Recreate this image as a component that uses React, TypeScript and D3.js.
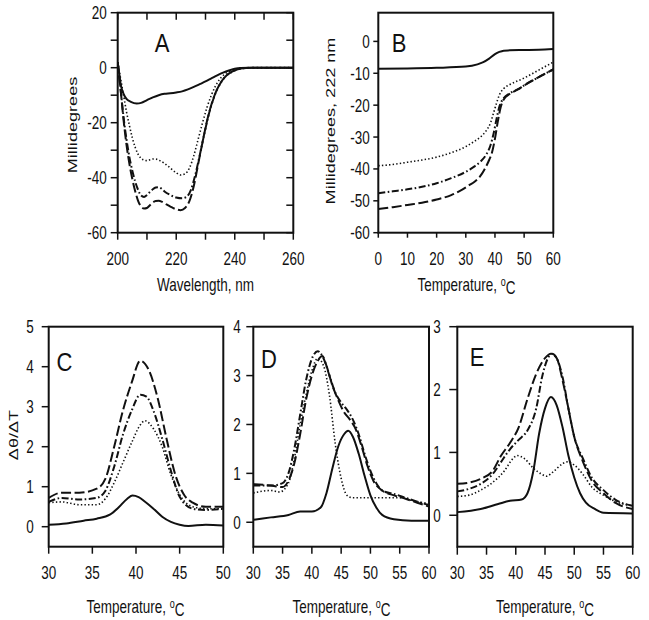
import React from "react";
import * as d3 from "d3";

type P = [number, number];

// ---------- Panel A: CD spectra (wavelength nm vs millidegrees)
const A_SOLID: P[] = [[200,2],[200.5,-2],[201,-6],[202,-9.5],[203,-11.3],[204.5,-12.4],[206.5,-13],[208,-12.8],[210,-11.8],[212,-10.8],[214,-10],[216,-9.5],[218,-9.3],[220,-9],[222,-8.6],[224,-7.9],[226,-7],[228,-6],[230,-5],[232,-3.9],[234,-2.8],[236,-1.8],[238,-1],[240,-0.4],[242,-0.1],[245,0],[260,0]];
const A_DOTTED: P[] = [[200,2],[201,-4],[202,-10],[203,-16],[204,-21],[205,-25.5],[206,-29],[207,-31.5],[208,-33],[209,-33.6],[210,-33.8],[211,-33.5],[212,-33.2],[213,-33.2],[214,-33.6],[216,-34.8],[218,-36.5],[220,-38.2],[221.5,-39],[223,-38.6],[224.5,-36.5],[226,-32],[227.5,-26],[229,-20],[230.5,-14.5],[232,-10],[233.5,-6.5],[235,-4],[237,-2],[239,-0.9],[241,-0.3],[244,0],[260,0]];
const A_DASHDOT: P[] = [[200,2],[201,-8],[202,-18],[203,-26],[204,-32.5],[205,-37.5],[206,-41.5],[207,-44.5],[208,-46.5],[209,-47],[210,-46.3],[211,-45.2],[212,-44.2],[213,-43.6],[214,-43.5],[215,-44],[216,-45],[218,-46.3],[220,-47.2],[222,-47.5],[223.5,-47],[225,-44.5],[226.5,-39],[228,-32],[229.5,-24.5],[231,-17.5],[232.5,-12],[234,-7.8],[235.5,-5],[237,-3],[239,-1.5],[241,-0.6],[243,-0.2],[246,0],[260,0]];
const A_DASHED: P[] = [[200,2],[201,-8],[202,-19],[203,-28],[204,-35],[205,-40.5],[206,-45],[207,-48.5],[208,-50.5],[209,-51.2],[210,-51],[211,-50],[212,-49],[213,-48.5],[214,-48.4],[215,-48.7],[216,-49.3],[218,-50.5],[220,-51.5],[221.5,-51.8],[223,-51],[224.5,-48.5],[226,-43],[227.5,-35],[229,-27],[230.5,-19.5],[232,-13.5],[233.5,-9],[235,-5.8],[236.5,-3.6],[238.5,-1.8],[240.5,-0.8],[243,-0.2],[246,0],[260,0]];

// ---------- Panel B: melting at 222 nm
const B_SOLID: P[] = [[0,-8.6],[10,-8.5],[20,-8.3],[30,-7.9],[34,-7.2],[36,-6.5],[38,-5.4],[40,-4],[41.5,-3.3],[43,-2.9],[45,-2.8],[50,-2.7],[55,-2.6],[60,-2.4]];
const B_DOTTED: P[] = [[0,-39],[5,-38.6],[10,-37.9],[15,-37.2],[20,-36.3],[25,-34.9],[30,-33],[33,-31.3],[35,-30],[37,-28],[38.5,-25.5],[39.5,-22.5],[40.5,-19.5],[41.5,-16.8],[43,-14.8],[45,-13.6],[50,-11.5],[55,-9],[60,-6.5]];
const B_DASHDOT: P[] = [[0,-47.6],[5,-47],[10,-46.4],[15,-45.6],[20,-44.5],[25,-42.9],[30,-40.9],[33,-39.2],[35,-37.7],[37,-35.5],[38.5,-32.5],[39.5,-29],[40.5,-24.5],[41.5,-20.5],[43,-17.8],[45,-16.3],[48,-15],[50,-13.8],[55,-11.2],[60,-8.8]];
const B_DASHED: P[] = [[0,-52.6],[5,-52],[10,-51.3],[15,-50.6],[20,-49.6],[25,-48.2],[28,-46.9],[31,-45.2],[33,-44],[35,-42.2],[36.5,-40],[38,-37.2],[39,-34.8],[40,-30.5],[41,-25],[42,-20.5],[43,-18.2],[45,-16.5],[48,-15],[50,-13.8],[55,-11.2],[60,-8.8]];

// ---------- Panel C: derivative
const C_SOLID: P[] = [[30,0.05],[32,0.08],[34,0.15],[35.5,0.2],[37,0.3],[38,0.48],[39,0.7],[39.6,0.78],[40.3,0.74],[41,0.63],[42,0.45],[43,0.25],[44,0.12],[45,0.05],[46,0.02],[48,0.05],[50,0.03]];
const C_DOTTED: P[] = [[30,0.6],[31.5,0.62],[33.5,0.55],[35.5,0.55],[36.5,0.7],[37.5,1.1],[38.5,1.6],[39.5,2.1],[40.5,2.55],[41,2.65],[42,2.45],[43,2.0],[44,1.3],[45,0.8],[46.5,0.5],[48,0.45],[50,0.45]];
const C_DASHDOT: P[] = [[30,0.62],[31.5,0.72],[33.5,0.68],[35.5,0.72],[36.5,0.9],[37.5,1.5],[38.5,2.3],[39.5,2.9],[40.5,3.3],[41.2,3.25],[42,2.9],[43,2.2],[44,1.4],[45,0.75],[46.5,0.45],[48,0.42],[50,0.45]];
const C_DASHED: P[] = [[30,0.72],[31.5,0.85],[33.5,0.85],[35.5,0.95],[36.5,1.2],[37.5,2.0],[38.5,2.9],[39.5,3.6],[40.5,4.15],[41.5,3.9],[42.5,3.2],[43.5,2.2],[44.5,1.3],[45.5,0.8],[46.5,0.6],[48,0.5],[50,0.5]];

// ---------- Panel D
const D_SOLID: P[] = [[30,0.05],[33,0.1],[36,0.15],[38,0.22],[40,0.22],[41.5,0.3],[42.5,0.6],[43.5,1.1],[44.5,1.55],[45.5,1.8],[46.2,1.87],[47,1.75],[48,1.4],[49,0.95],[50,0.55],[51,0.3],[52,0.15],[54,0.06],[57,0.03],[60,0.03]];
const D_DOTTED: P[] = [[30,0.6],[33,0.65],[34.5,0.62],[36,0.8],[37,1.3],[38,2.0],[39,2.6],[40,3.1],[41,3.35],[42,3.2],[43,2.6],[44,1.6],[45,0.9],[46,0.55],[47,0.5],[50,0.5],[53,0.5],[55.5,0.5],[57,0.45],[60,0.38]];
const D_DASHDOT: P[] = [[30,0.75],[33,0.75],[35,0.8],[36,1.0],[37,1.5],[38,2.2],[39,2.9],[40.2,3.4],[41,3.5],[42,3.35],[43,3.0],[44,2.65],[45,2.45],[46,2.3],[47,2.1],[48,1.8],[49,1.4],[50,1.05],[51,0.8],[52,0.65],[54,0.58],[56,0.5],[58,0.42],[60,0.35]];
const D_DASHED: P[] = [[30,0.78],[33,0.75],[35,0.72],[36,0.85],[37,1.2],[38,1.8],[39,2.5],[40,3.0],[41,3.3],[41.8,3.4],[42.5,3.2],[43.5,2.8],[44.5,2.5],[45.5,2.25],[46.5,2.1],[47.5,1.9],[48.5,1.55],[49.5,1.15],[50.5,0.85],[52,0.65],[54,0.55],[56,0.48],[58,0.4],[60,0.32]];

// ---------- Panel E
const E_SOLID: P[] = [[30,0.05],[34,0.1],[37,0.18],[39,0.23],[41,0.25],[42,0.35],[43,0.7],[44,1.3],[45,1.7],[46,1.88],[47,1.75],[48,1.4],[49,0.95],[50,0.6],[51,0.35],[52,0.2],[53.5,0.1],[55,0.04],[60,0.03]];
const E_DOTTED: P[] = [[30,0.3],[32,0.32],[34,0.4],[36,0.52],[38,0.7],[39.5,0.9],[40.2,0.95],[41.5,0.9],[43,0.75],[44.5,0.65],[45.2,0.62],[46.5,0.7],[48,0.82],[48.8,0.85],[50,0.8],[51.5,0.65],[53,0.45],[55,0.32],[57,0.22],[60,0.15]];
const E_DASHDOT: P[] = [[30,0.38],[32,0.42],[34,0.5],[36,0.65],[37.5,0.85],[39,1.05],[40.5,1.2],[42,1.35],[43.5,1.7],[44.5,2.2],[45.5,2.5],[46.2,2.57],[47,2.5],[48,2.2],[49,1.7],[50,1.25],[51.5,0.9],[53,0.6],[55,0.4],[57,0.25],[60,0.15]];
const E_DASHED: P[] = [[30,0.5],[32,0.52],[34,0.58],[36,0.7],[37.5,0.95],[39,1.15],[40.5,1.4],[42,1.85],[43.5,2.25],[45,2.5],[46,2.57],[47,2.5],[48,2.15],[49,1.7],[50,1.25],[51.5,0.85],[53,0.55],[55,0.35],[57,0.2],[60,0.1]];

// ---------- Ticks
const A_XTICKS = [200, 210, 220, 230, 240, 250, 260];
const A_XLABELS = [200, 220, 240, 260];
const A_YTICKS = [20, 10, 0, -10, -20, -30, -40, -50, -60];
const A_YLABELS = [20, 0, -20, -40, -60];
const B_XTICKS = [0, 10, 20, 30, 40, 50, 60];
const B_YTICKS = [0, -10, -20, -30, -40, -50, -60];
const C_XTICKS = [30, 35, 40, 45, 50];
const C_YTICKS = [0, 1, 2, 3, 4, 5];
const DE_XTICKS = [30, 35, 40, 45, 50, 55, 60];
const D_YTICKS = [0, 1, 2, 3, 4];
const E_YTICKS = [0, 1, 2, 3];

const FONT = "'Liberation Sans', Arial, sans-serif";

type Style = "solid" | "dotted" | "dashdot" | "dashed";
const STYLE: Record<Style, { w: number; dash?: string }> = {
  solid: { w: 2 },
  dotted: { w: 1.6, dash: "1.4 2.2" },
  dashdot: { w: 2, dash: "7 2.5 1.6 2.5" },
  dashed: { w: 2, dash: "10 3.5" },
};

interface PanelCfg {
  left: number; right: number; top: number; bottom: number;
  xDomain: [number, number]; yDomain: [number, number];
  xTicks: number[]; xLabels: number[]; yTicks: number[]; yLabels: number[];
  mirror: boolean; tickLen: number; yLabelGap: number; xLabelY: number;
  letter: string; letterX: number; letterY: number;
  xTitle: React.ReactNode; xTitleX: number; xTitleY: number;
  yTitle?: string; yTitleX?: number; yTitleY?: number;
  series: { data: P[]; style: Style }[];
}

function HText({ x, y, anchor = "middle", size = 18, sx = 0.75, children }: any) {
  return (
    <text transform={`translate(${x},${y}) scale(${sx},1)`} textAnchor={anchor} dy="0.36em"
      fontSize={size} fontFamily={FONT} fill="#111">{children}</text>
  );
}

function Panel(c: PanelCfg) {
  const x = d3.scaleLinear().domain(c.xDomain).range([c.left, c.right]);
  const y = d3.scaleLinear().domain(c.yDomain).range([c.bottom, c.top]);
  const line = d3.line<P>().x((d) => x(d[0])).y((d) => y(d[1])).curve(d3.curveMonotoneX);
  const clipId = "clip" + c.letter;
  return (
    <g>
      <defs>
        <clipPath id={clipId}>
          <rect x={c.left} y={c.top} width={c.right - c.left} height={c.bottom - c.top} />
        </clipPath>
      </defs>
      <g clipPath={`url(#${clipId})`}>
        {c.series.map((s, i) => (
          <path key={i} d={line(s.data) || ""} fill="none" stroke="#111"
            strokeWidth={STYLE[s.style].w} strokeDasharray={STYLE[s.style].dash}
            strokeLinejoin="round" />
        ))}
      </g>
      <rect x={c.left} y={c.top} width={c.right - c.left} height={c.bottom - c.top}
        fill="none" stroke="#111" strokeWidth={2} />
      {c.yTicks.map((t) => (
        <g key={"y" + t}>
          <line x1={c.left - c.tickLen} x2={c.left} y1={y(t)} y2={y(t)} stroke="#111" strokeWidth={1.5} />
          {c.mirror && <line x1={c.right - c.tickLen} x2={c.right} y1={y(t)} y2={y(t)} stroke="#111" strokeWidth={1.5} />}
        </g>
      ))}
      {c.yLabels.map((t) => (
        <HText key={"yl" + t} x={c.left - c.yLabelGap} y={y(t)} anchor="end">{t}</HText>
      ))}
      {c.xTicks.map((t) => (
        <g key={"x" + t}>
          <line x1={x(t)} x2={x(t)} y1={c.bottom} y2={c.bottom + c.tickLen} stroke="#111" strokeWidth={1.5} />
          {c.mirror && <line x1={x(t)} x2={x(t)} y1={c.top} y2={c.top + c.tickLen} stroke="#111" strokeWidth={1.5} />}
        </g>
      ))}
      {c.xLabels.map((t) => (
        <HText key={"xl" + t} x={x(t)} y={c.xLabelY}>{t}</HText>
      ))}
      <HText x={c.letterX} y={c.letterY} size={25} sx={0.88}>{c.letter}</HText>
      <HText x={c.xTitleX} y={c.xTitleY}>{c.xTitle}</HText>
      {c.yTitle && (
        <text transform={`translate(${c.yTitleX},${c.yTitleY}) rotate(-90) scale(1.33,1)`}
          textAnchor="middle" dy="0.36em" fontSize={13.6} fontFamily={FONT} fill="#111">{c.yTitle}</text>
      )}
    </g>
  );
}

const tempTitle = (
  <>
    Temperature, <tspan fontSize={12} dy="-0.45em">o</tspan><tspan dy="0.45em">C</tspan>
  </>
);

export default function App() {
  const s = (a: P[], b: P[], c: P[], d: P[]) => [
    { data: a, style: "solid" as Style },
    { data: b, style: "dotted" as Style },
    { data: c, style: "dashdot" as Style },
    { data: d, style: "dashed" as Style },
  ];
  return (
    <svg width={649} height={620} style={{ position: "absolute", left: 0, top: 0, background: "#fff" }}>
      <rect width={649} height={620} fill="#fff" />
      <Panel left={117.7} right={293.3} top={12.7} bottom={232.7}
        xDomain={[200, 260]} yDomain={[-60, 20]}
        xTicks={A_XTICKS} xLabels={A_XLABELS} yTicks={A_YTICKS} yLabels={A_YLABELS}
        mirror={true} tickLen={7} yLabelGap={11} xLabelY={258.5}
        letter="A" letterX={162} letterY={42.5}
        xTitle="Wavelength, nm" xTitleX={205.5} xTitleY={284.5}
        yTitle="Millidegrees" yTitleX={72.5} yTitleY={125}
        series={s(A_SOLID, A_DOTTED, A_DASHDOT, A_DASHED)} />
      <Panel left={378.3} right={553.3} top={12.7} bottom={232.7}
        xDomain={[0, 60]} yDomain={[-60, 9]}
        xTicks={B_XTICKS} xLabels={B_XTICKS} yTicks={B_YTICKS} yLabels={B_YTICKS}
        mirror={false} tickLen={5} yLabelGap={8.5} xLabelY={258.5}
        letter="B" letterX={399} letterY={42.5}
        xTitle={tempTitle} xTitleX={466.5} xTitleY={284.5}
        yTitle="Millidegrees,  222 nm" yTitleX={330} yTitleY={121}
        series={s(B_SOLID, B_DOTTED, B_DASHDOT, B_DASHED)} />
      <Panel left={48.7} right={223.3} top={326.7} bottom={546.7}
        xDomain={[30, 50]} yDomain={[-0.5, 5]}
        xTicks={C_XTICKS} xLabels={C_XTICKS} yTicks={C_YTICKS} yLabels={C_YTICKS}
        mirror={false} tickLen={7} yLabelGap={15} xLabelY={572.5}
        letter="C" letterX={64.5} letterY={362}
        xTitle={tempTitle} xTitleX={135.5} xTitleY={607}
        yTitle="Δθ/ΔT" yTitleX={13} yTitleY={435}
        series={s(C_SOLID, C_DOTTED, C_DASHDOT, C_DASHED)} />
      <Panel left={253.3} right={429} top={326.7} bottom={546.7}
        xDomain={[30, 60]} yDomain={[-0.5, 4]}
        xTicks={DE_XTICKS} xLabels={DE_XTICKS} yTicks={D_YTICKS} yLabels={D_YTICKS}
        mirror={false} tickLen={7} yLabelGap={12.6} xLabelY={572.5}
        letter="D" letterX={269} letterY={359}
        xTitle={tempTitle} xTitleX={341.5} xTitleY={607}
        series={s(D_SOLID, D_DOTTED, D_DASHDOT, D_DASHED)} />
      <Panel left={457.3} right={632.7} top={326.7} bottom={546.7}
        xDomain={[30, 60]} yDomain={[-0.5, 3]}
        xTicks={DE_XTICKS} xLabels={DE_XTICKS} yTicks={E_YTICKS} yLabels={E_YTICKS}
        mirror={false} tickLen={8} yLabelGap={16.6} xLabelY={572.5}
        letter="E" letterX={477} letterY={357}
        xTitle={tempTitle} xTitleX={545} xTitleY={607}
        series={s(E_SOLID, E_DOTTED, E_DASHDOT, E_DASHED)} />
    </svg>
  );
}
